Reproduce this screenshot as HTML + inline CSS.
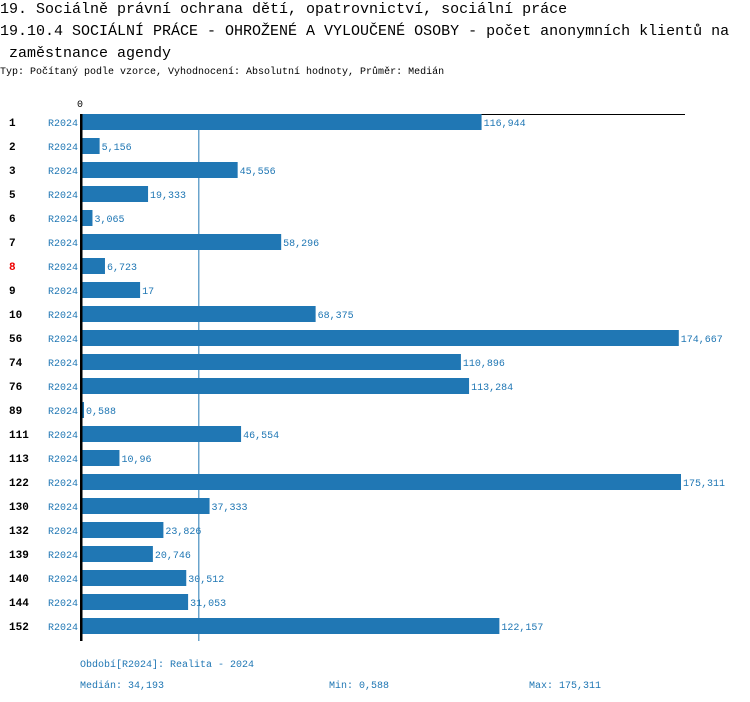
<!DOCTYPE html>
<html><head><meta charset="utf-8"><style>
body{margin:0;width:750px;height:702px;background:#fff;overflow:hidden;font-family:"Liberation Mono",monospace}
.t{position:absolute;white-space:pre;color:#000}
</style></head><body>
<div class="t" style="left:0;top:1px;font-size:15px">19. Sociálně právní ochrana dětí, opatrovnictví, sociální práce</div>
<div class="t" style="left:0;top:23px;font-size:15px">19.10.4 SOCIÁLNÍ PRÁCE - OHROŽENÉ A VYLOUČENÉ OSOBY - počet anonymních klientů na</div>
<div class="t" style="left:0;top:45px;font-size:15px"> zaměstnance agendy</div>
<div class="t" style="left:0;top:67px;font-size:10px">Typ: Počítaný podle vzorce, Vyhodnocení: Absolutní hodnoty, Průměr: Medián</div>
<svg id="c" width="750" height="702" style="position:absolute;left:0;top:0"></svg>
<script>
const categories=["1","2","3","5","6","7","8","9","10","56","74","76","89","111","113","122","130","132","139","140","144","152"];
const values=[116.944,5.156,45.556,19.333,3.065,58.296,6.723,17,68.375,174.667,110.896,113.284,0.588,46.554,10.96,175.311,37.333,23.826,20.746,30.512,31.053,122.157];
const highlighted=["8"];
const medianValue=34.193, minValue=0.588, maxValue=175.311;
const NS="http://www.w3.org/2000/svg";
const svg=document.getElementById('c');
const x0=82, scale=599/175.311, y0=122, step=24, bh=16;
const X=v=>x0+v*scale;
const fmt=v=>String(v).replace('.',',');
function mk(tag,attrs,text){const e=document.createElementNS(NS,tag);for(const k in attrs)e.setAttribute(k,attrs[k]);if(text!==undefined)e.textContent=text;svg.appendChild(e);return e;}
let e;
e=mk('line',{x1:80,y1:114.5,x2:685,y2:114.5,stroke:'#000','stroke-width':1});


e=mk('text',{x:80,y:107,'font-size':10,'text-anchor':'middle','font-family':'Liberation Mono, monospace'},'0');


categories.forEach((c,i)=>{
  const yc=y0+i*step;
  e=mk('rect',{x:x0,y:yc-bh/2,width:Math.max(X(values[i])-x0,1),height:bh,fill:'#2077b4'});
  
  
  e=mk('text',{x:X(values[i])+2,y:yc+4,'font-size':10,fill:'#2077b4','font-family':'Liberation Mono, monospace'},fmt(values[i]));
  
  
  e=mk('text',{x:78,y:yc+4,'font-size':10,fill:'#2077b4','text-anchor':'end','font-family':'Liberation Mono, monospace'},'R2024');
  
  
  e=mk('text',{x:9,y:yc+4,'font-size':11,'font-weight':'bold',fill:highlighted.includes(c)?'#e00':'#000','font-family':'Liberation Mono, monospace'},c);
  
  
});
const yEnd=y0+(categories.length-1)*step+bh/2+7;
e=mk('line',{x1:X(medianValue),y1:114,x2:X(medianValue),y2:yEnd,stroke:'#2077b4','stroke-width':1});


svg.insertBefore(e,svg.firstChild);
e=mk('rect',{x:80,y:114,width:2.5,height:yEnd-114,fill:'#000'});


const foot=[[80,667,'Období[R2024]: Realita - 2024','period-legend'],[80,688,'Medián: '+fmt(medianValue),'median-stat'],[329,688,'Min: '+fmt(minValue),'min-stat'],[529,688,'Max: '+fmt(maxValue),'max-stat']];
foot.forEach(f=>{
  e=mk('text',{x:f[0],y:f[1],'font-size':10,fill:'#2077b4','font-family':'Liberation Mono, monospace'},f[2]);
  
  
});
</script>
</body></html>
